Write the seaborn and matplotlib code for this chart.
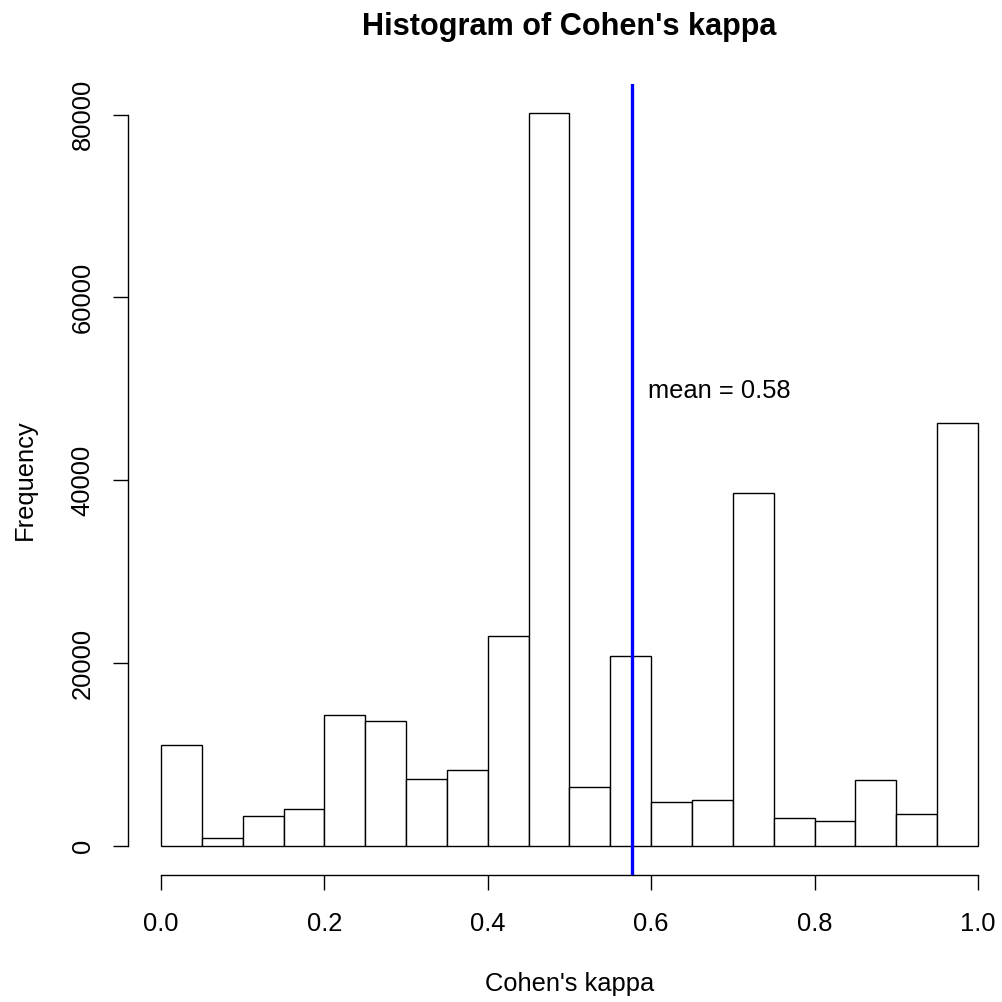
import numpy as np
import pandas as pd
import matplotlib
matplotlib.use("Agg")
import matplotlib.pyplot as plt
import seaborn as sns

# Histogram bins of Cohen's kappa (width 0.05) and their frequencies
bin_edges = [0.00, 0.05, 0.10, 0.15, 0.20, 0.25, 0.30, 0.35, 0.40, 0.45, 0.50,
             0.55, 0.60, 0.65, 0.70, 0.75, 0.80, 0.85, 0.90, 0.95, 1.00]
counts = [11030, 820, 3260, 4100, 14280, 13625, 7350, 8340, 22930, 80150,
          6400, 20800, 4760, 5030, 38630, 3010, 2680, 7170, 3450, 46240]
mean_kappa = 0.576
mean_label_y = 50000

x_ticks = [0.0, 0.2, 0.4, 0.6, 0.8, 1.0]
x_tick_labels = ["0.0", "0.2", "0.4", "0.6", "0.8", "1.0"]
y_ticks = [0, 20000, 40000, 60000, 80000]
y_tick_labels = ["0", "20000", "40000", "60000", "80000"]

sns.set_style("white")
plt.rcParams["font.family"] = ["Liberation Sans", "DejaVu Sans"]
plt.rcParams["text.color"] = "black"
plt.rcParams["axes.labelcolor"] = "black"

edges = np.array(bin_edges)
df = pd.DataFrame({
    "kappa": (edges[:-1] + edges[1:]) / 2,
    "freq": counts,
})

FS = 18.4
W, H = 1002, 1002
fig = plt.figure(figsize=(W / 100, H / 100), dpi=100)

# plot region with R-style 4% padding around the data range
xr = edges[-1] - edges[0]
ymax = max(counts)
px_per_x = 817.0
left_px = 161 - 0.04 * xr * px_per_x
width_px = 1.08 * xr * px_per_x
bottom_px = 875.3
height_px = 791.4
ax = fig.add_axes([left_px / W, (H - bottom_px) / H, width_px / W, height_px / H])

sns.histplot(data=df, x="kappa", weights="freq", bins=bin_edges, ax=ax,
             color="white", edgecolor="black", linewidth=1.0, alpha=1.0)

ax.axvline(mean_kappa, color="#0000FF", lw=2.4, zorder=5)
ax.annotate(f"mean = {mean_kappa:.2f}", xy=(mean_kappa, mean_label_y),
            xytext=(12, 0), textcoords="offset points",
            ha="left", va="center_baseline", fontsize=FS, color="black")

ax.set_xlim(edges[0] - 0.04 * xr, edges[-1] + 0.04 * xr)
ax.set_ylim(-0.04 * ymax, 1.04 * ymax)

for s in ["top", "right"]:
    ax.spines[s].set_visible(False)
ax.spines["left"].set_bounds(y_ticks[0], y_ticks[-1])
ax.spines["bottom"].set_bounds(x_ticks[0], x_ticks[-1])
for s in ["left", "bottom"]:
    ax.spines[s].set_linewidth(1.0)
    ax.spines[s].set_color("black")

ax.set_xticks(x_ticks)
ax.set_xticklabels(x_tick_labels)
ax.set_yticks(y_ticks)
ax.set_yticklabels(y_tick_labels, rotation=90, va="center")
ax.tick_params(axis="both", direction="out", length=10.8, width=1.0,
               colors="black", labelsize=FS, left=True, bottom=True)
ax.tick_params(axis="x", pad=15.5)
ax.tick_params(axis="y", pad=13.5)

ax.set_xlabel("Cohen's kappa", fontsize=FS, va="top")
ax.xaxis.set_label_coords(0.5, -(972 - bottom_px) / height_px)
ax.set_ylabel("Frequency", fontsize=FS, va="bottom")
ax.yaxis.set_label_coords((36.4 - left_px) / width_px, 0.5)

ax.set_title("Histogram of Cohen's kappa", fontsize=FS * 1.2, fontweight="bold",
             color="black", y=(bottom_px - 35) / height_px, va="baseline", pad=0)

fig.savefig("out.png", dpi=100)
